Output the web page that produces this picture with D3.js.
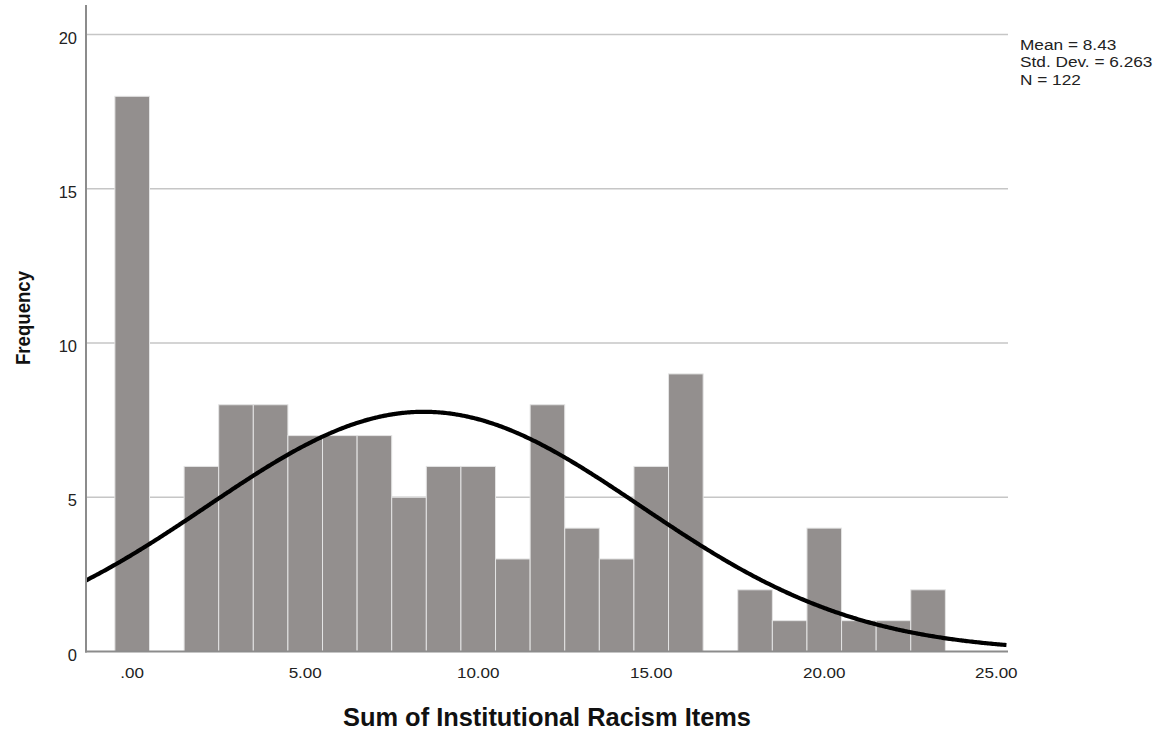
<!DOCTYPE html>
<html><head><meta charset="utf-8">
<script src="https://cdn.jsdelivr.net/npm/d3@7"></script>
<style>body{margin:0;background:#fff;} svg{display:block;}</style>
</head><body>
<svg id="c" width="1167" height="734"></svg>
<script>
const binCenters = [0,1,2,3,4,5,6,7,8,9,10,11,12,13,14,15,16,17,18,19,20,21,22,23];
const frequencies = [18,0,6,8,8,7,7,7,5,6,6,3,8,4,3,6,9,0,2,1,4,1,1,2];
const xTicks = [0,5,10,15,20,25];
const xTickLabels = [".00","5.00","10.00","15.00","20.00","25.00"];
const yTicks = [0,5,10,15,20];
const stats = {mean: 8.43, sd: 6.263, n: 122};
const statLines = ["Mean = 8.43","Std. Dev. = 6.263","N = 122"];

const svg = d3.select("#c");
const x = d3.scaleLinear().domain([-1.335, 25.31]).range([86, 1008]);
const y = d3.scaleLinear().domain([0, 20.96]).range([651.5, 5]);
const font = "'Liberation Sans', Arial, sans-serif";

// gridlines
svg.append("g").selectAll("line").data(yTicks.filter(d=>d>0)).join("line")
  .attr("x1", 87).attr("x2", 1008)
  .attr("y1", d=>y(d)).attr("y2", d=>y(d))
  .attr("stroke", "#c6c6c6").attr("stroke-width", 1.5);

// bars
svg.append("g").selectAll("rect").data(binCenters.map((c,i)=>({c, f: frequencies[i]})).filter(d=>d.f>0)).join("rect")
  .attr("x", d=>x(d.c-0.5)).attr("width", d=>x(d.c+0.5)-x(d.c-0.5))
  .attr("y", d=>y(d.f)).attr("height", d=>y(0)-y(d.f))
  .attr("fill", "#938f8e").attr("stroke", "#e4e4e4").attr("stroke-width", 1);

// normal curve
const binW = 1;
const pts = d3.range(-1.335, 25.31 + 0.001, 0.05).map(v => {
  const z = (v - stats.mean) / stats.sd;
  return [v, stats.n * binW * Math.exp(-0.5*z*z) / (stats.sd * Math.sqrt(2*Math.PI))];
});
svg.append("path").datum(pts)
  .attr("d", d3.line().x(d=>x(d[0])).y(d=>y(d[1])).curve(d3.curveBasis))
  .attr("fill", "none").attr("stroke", "#000").attr("stroke-width", 4.2);

// axes lines
svg.append("line").attr("x1", 86).attr("x2", 86).attr("y1", 5).attr("y2", 652.5)
  .attr("stroke", "#8c8c8c").attr("stroke-width", 2);
svg.append("line").attr("x1", 85).attr("x2", 1008).attr("y1", 651.5).attr("y2", 651.5)
  .attr("stroke", "#8c8c8c").attr("stroke-width", 2);

// y tick labels
svg.append("g").selectAll("text").data(yTicks).join("text")
  .attr("x", 77).attr("y", d=>y(d) + 9)
  .attr("text-anchor", "end").attr("font-family", font).attr("font-size", 16.5).attr("fill", "#222")
  .text(d=>d);

// x tick labels
svg.append("g").selectAll("text").data(xTicks).join("text")
  .attr("transform", d=>`translate(${x(d) + (d===25 ? -1 : 0)},677.5) scale(1.1,1)`)
  .attr("text-anchor", "middle").attr("font-family", font).attr("font-size", 15.5).attr("fill", "#222")
  .text((d,i)=>xTickLabels[i]);

// axis titles
svg.append("text").attr("x", 547).attr("y", 726)
  .attr("text-anchor", "middle").attr("font-family", font).attr("font-size", 25).attr("font-weight", "bold").attr("fill", "#111")
  .attr("textLength", 408).attr("lengthAdjust", "spacingAndGlyphs")
  .text("Sum of Institutional Racism Items");
svg.append("text").attr("transform", "translate(30,318) rotate(-90)")
  .attr("text-anchor", "middle").attr("font-family", font).attr("font-size", 21).attr("font-weight", "bold").attr("fill", "#111")
  .attr("textLength", 94).attr("lengthAdjust", "spacingAndGlyphs")
  .text("Frequency");

// stats
svg.append("g").attr("transform", "translate(1020,0) scale(1.15,1)")
  .selectAll("text").data(statLines).join("text")
  .attr("x", 0).attr("y", (d,i)=>50 + i*17.5)
  .attr("font-family", font).attr("font-size", 15).attr("fill", "#222")
  .text(d=>d);
</script>
</body></html>
